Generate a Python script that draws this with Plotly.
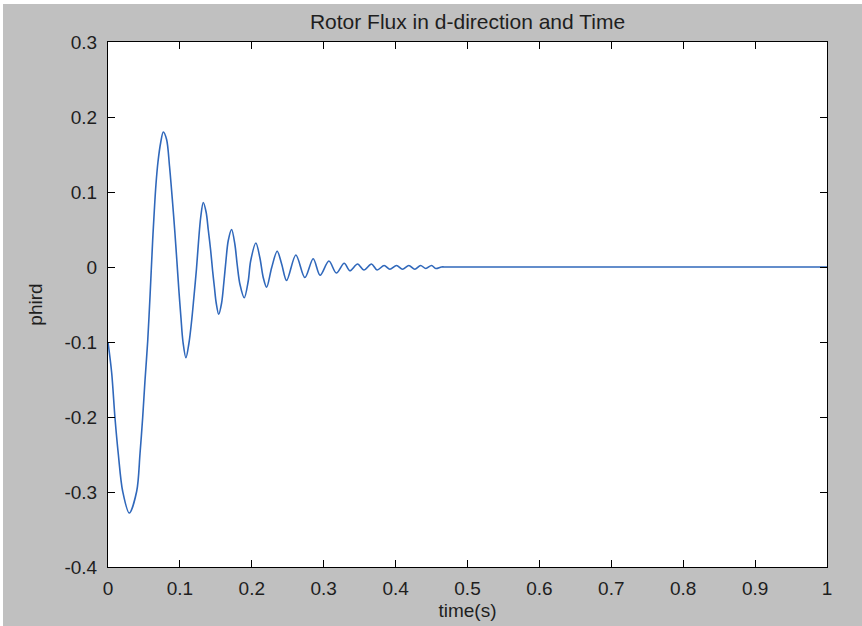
import plotly.graph_objects as go

# Values
time_s = [0.0, 0.0051, 0.0097, 0.0143, 0.0204, 0.0296, 0.0399, 0.0445, 0.0482, 0.0514,
          0.0552, 0.0584, 0.0621, 0.0644, 0.0667, 0.0695, 0.0733, 0.0769, 0.0815,
          0.0855, 0.0899, 0.0931, 0.0958, 0.0985, 0.1015, 0.1043, 0.1084, 0.1125,
          0.1163, 0.1195, 0.1230, 0.1260, 0.1289, 0.1325, 0.1365, 0.1394, 0.1428, 0.1455,
          0.1480, 0.1505, 0.1540, 0.1580, 0.1612, 0.1640, 0.1672, 0.1719, 0.1765, 0.1797, 0.1835,
          0.1895, 0.1950, 0.1984, 0.2057, 0.2113, 0.2159, 0.2206, 0.2276, 0.2353, 0.2415,
          0.2484, 0.2613, 0.2738, 0.2854, 0.2950, 0.3072, 0.3176, 0.3285, 0.3364, 0.3471,
          0.3559, 0.3665, 0.3743, 0.3841, 0.3920, 0.4013, 0.4096, 0.4184, 0.4267, 0.4347,
          0.4420, 0.4500, 0.4559, 0.4638, 0.4708, 1.0]
phird = [-0.100, -0.141, -0.201, -0.249, -0.299, -0.328, -0.299, -0.249, -0.201, -0.152,
         -0.099, -0.040, 0.035, 0.075, 0.110, 0.140, 0.166, 0.180, 0.170,
         0.135, 0.085, 0.045, 0.008, -0.030, -0.068, -0.100, -0.121, -0.102,
         -0.072, -0.040, -0.003, 0.035, 0.066, 0.086, 0.073, 0.050, 0.022, -0.005,
         -0.027, -0.048, -0.063, -0.048, -0.020, 0.008, 0.035, 0.050, 0.030, 0.003, -0.023,
         -0.041, -0.019, 0.008, 0.032, 0.012, -0.014, -0.027, -0.001, 0.021, 0.004,
         -0.018, 0.016, -0.014, 0.011, -0.011, 0.008, -0.008, 0.005, -0.005, 0.004,
         -0.004, 0.004, -0.004, 0.002, -0.003, 0.002, -0.003, 0.002, -0.003, 0.002,
         -0.002, 0.002, -0.002, 0.000, 0.000, 0.000]

xtick_vals = [0, 0.1, 0.2, 0.3, 0.4, 0.5, 0.6, 0.7, 0.8, 0.9, 1.0]
xtick_text = ["0", "0.1", "0.2", "0.3", "0.4", "0.5", "0.6", "0.7", "0.8", "0.9", "1"]
ytick_vals = [-0.4, -0.3, -0.2, -0.1, 0, 0.1, 0.2, 0.3]
ytick_text = ["-0.4", "-0.3", "-0.2", "-0.1", "0", "0.1", "0.2", "0.3"]

FONT = "Liberation Sans, Arial, sans-serif"
GRAY = "#c0c0c0"

fig = go.Figure()
fig.add_trace(go.Scatter(
    x=time_s, y=phird, mode="lines",
    line=dict(color="#3068bb", width=1.6, shape="spline", smoothing=0.9),
    showlegend=False, hoverinfo="skip",
))

W, H = 862, 626
L, R, T, B = 108, 35, 42, 59
pw, ph = W - L - R, H - T - B

axis_common = dict(
    showgrid=False, zeroline=False, showline=True, linecolor="#000000", linewidth=1,
    mirror="ticks", ticks="inside", ticklen=7, tickwidth=1, tickcolor="#000000",
    tickfont=dict(family=FONT, size=19, color="#1e1e1e"), automargin=False,
)

fig.update_layout(
    width=W, height=H,
    margin=dict(l=L, r=R, t=T, b=B, autoexpand=False),
    paper_bgcolor=GRAY, plot_bgcolor="#ffffff",
    title=dict(text="Rotor Flux in d-direction and Time", x=(L + pw / 2) / W,
               xref="container", xanchor="center",
               y=1 - 22 / H, yref="container", yanchor="middle",
               font=dict(family=FONT, size=21, color="#1e1e1e")),
    xaxis=dict(range=[0, 1], tickvals=xtick_vals, ticktext=xtick_text,
               ticklabelstandoff=4,
               title=dict(text="time(s)", standoff=5,
                          font=dict(family=FONT, size=19, color="#1e1e1e")),
               **axis_common),
    yaxis=dict(range=[-0.4, 0.3], tickvals=ytick_vals, ticktext=ytick_text,
               ticklabelstandoff=6,
               title=dict(text="phird", standoff=16,
                          font=dict(family=FONT, size=19, color="#1e1e1e")),
               **axis_common),
    shapes=[
        # thin white strips at the top and left edges of the picture
        dict(type="rect", xref="paper", yref="paper", layer="above",
             x0=-L / pw - 0.01, x1=1 + R / pw + 0.01,
             y0=1 + (T - 4) / ph, y1=1 + T / ph + 0.01,
             fillcolor="#ffffff", line=dict(width=0)),
        dict(type="rect", xref="paper", yref="paper", layer="above",
             x0=-L / pw - 0.01, x1=-(L - 3) / pw,
             y0=-B / ph, y1=1 + T / ph + 0.01,
             fillcolor="#ffffff", line=dict(width=0)),
    ],
)

fig.write_html("out.html")
